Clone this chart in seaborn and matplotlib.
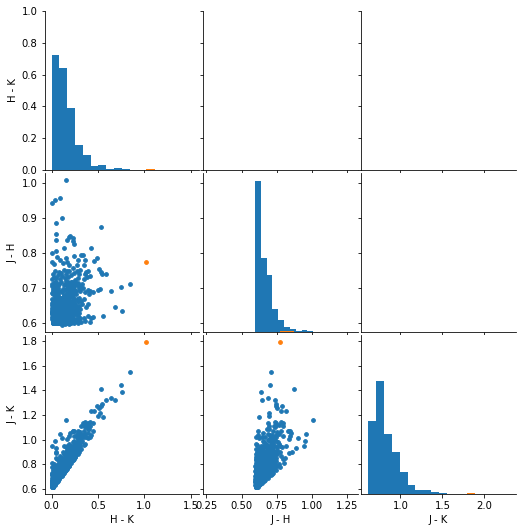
import matplotlib
matplotlib.use("Agg")
import matplotlib.pyplot as plt
import numpy as np
import pandas as pd
import seaborn as sns

# (H - K, J - H) pairs; J - K = (J - H) + (H - K)
grp_a1_b1 = [
    (0.018, 0.599), (0.011, 0.622), (0.019, 0.606), (0.027, 0.631), (0.033, 0.613), (0.041, 0.601),
    (0.048, 0.627), (0.056, 0.598), (0.062, 0.622), (0.071, 0.606), (0.079, 0.631), (0.083, 0.630),
    (0.016, 0.601), (0.009, 0.627), (0.017, 0.599), (0.023, 0.622), (0.031, 0.606), (0.038, 0.631),
    (0.044, 0.613), (0.052, 0.601), (0.059, 0.627), (0.066, 0.598), (0.079, 0.634), (0.081, 0.606),
    (0.006, 0.631), (0.013, 0.613), (0.021, 0.601), (0.028, 0.627), (0.036, 0.598), (0.043, 0.622),
    (0.050, 0.606), (0.057, 0.631), (0.064, 0.613), (0.069, 0.601), (0.081, 0.632), (0.082, 0.598),
    (0.001, 0.617), (0.008, 0.635), (0.017, 0.609), (0.025, 0.617), (0.034, 0.635), (0.039, 0.609),
    (0.046, 0.617), (0.054, 0.635), (0.061, 0.609), (0.068, 0.617), (0.075, 0.635), (0.080, 0.609),
    (0.012, 0.604), (0.012, 0.626), (0.020, 0.611), (0.029, 0.603), (0.035, 0.619), (0.042, 0.633),
    (0.049, 0.604), (0.058, 0.626), (0.065, 0.611), (0.072, 0.603), (0.084, 0.628), (0.084, 0.633),
    (0.005, 0.611), (0.013, 0.603), (0.016, 0.619), (0.024, 0.633), (0.032, 0.604), (0.037, 0.626),
    (0.045, 0.611), (0.053, 0.603), (0.060, 0.619), (0.080, 0.634), (0.073, 0.604), (0.082, 0.631),
    (0.007, 0.624), (0.016, 0.600), (0.022, 0.615), (0.030, 0.629), (0.040, 0.600), (0.047, 0.615),
    (0.055, 0.624), (0.063, 0.629), (0.070, 0.600), (0.076, 0.615),
    (0.018, 0.625), (0.026, 0.610), (0.035, 0.628), (0.051, 0.608), (0.058, 0.614), (0.044, 0.620),
    (0.029, 0.599), (0.012, 0.616), (0.066, 0.623), (0.039, 0.612), (0.009, 0.630), (0.073, 0.612),
]
grp_a1_b2 = [
    (0.003, 0.641), (0.011, 0.662), (0.018, 0.649), (0.046, 0.673), (0.034, 0.655), (0.041, 0.639),
    (0.049, 0.668), (0.075, 0.645), (0.064, 0.659), (0.072, 0.676), (0.080, 0.652),
    (0.006, 0.657), (0.014, 0.637), (0.045, 0.670), (0.030, 0.647), (0.055, 0.664), (0.064, 0.653),
    (0.074, 0.641), (0.061, 0.674), (0.068, 0.648), (0.076, 0.661),
    (0.001, 0.668), (0.009, 0.651), (0.040, 0.677), (0.024, 0.643), (0.052, 0.660), (0.040, 0.671),
    (0.070, 0.646), (0.055, 0.656), (0.079, 0.638), (0.070, 0.665), (0.078, 0.644),
    (0.012, 0.658), (0.028, 0.651), (0.060, 0.661), (0.072, 0.650), (0.036, 0.642), (0.020, 0.654),
]
grp_a1_b3 = [
    (0.002, 0.684), (0.010, 0.705), (0.017, 0.692), (0.025, 0.714), (0.033, 0.688), (0.040, 0.701),
    (0.048, 0.718), (0.056, 0.683), (0.063, 0.696), (0.071, 0.709), (0.079, 0.690),
    (0.005, 0.712), (0.013, 0.697), (0.021, 0.681), (0.029, 0.703), (0.037, 0.716), (0.044, 0.693),
    (0.052, 0.686), (0.060, 0.707), (0.067, 0.699), (0.075, 0.682), (0.082, 0.711),
]
grp_a1_high = [
    (0.004, 0.725), (0.015, 0.741), (0.027, 0.732), (0.038, 0.748), (0.051, 0.728), (0.066, 0.737),
    (0.078, 0.745), (0.000, 0.774), (0.010, 0.800), (0.055, 0.790), (0.030, 0.768), (0.051, 0.838),
    (0.044, 0.806), (0.044, 0.855), (0.044, 0.887), (0.000, 0.944), (0.036, 0.953),
]
grp_a2_b1 = [
    (0.086, 0.626), (0.093, 0.621), (0.100, 0.607), (0.107, 0.630), (0.114, 0.612), (0.121, 0.602),
    (0.128, 0.626), (0.135, 0.600), (0.142, 0.618), (0.149, 0.605), (0.156, 0.633), (0.163, 0.611),
    (0.088, 0.626), (0.101, 0.612), (0.102, 0.616), (0.109, 0.594), (0.116, 0.629), (0.123, 0.609),
    (0.130, 0.620), (0.137, 0.603), (0.144, 0.634), (0.151, 0.613), (0.158, 0.600), (0.165, 0.623),
    (0.097, 0.618), (0.097, 0.632), (0.112, 0.601), (0.111, 0.619), (0.118, 0.606), (0.125, 0.635),
    (0.132, 0.612), (0.139, 0.599), (0.146, 0.624), (0.153, 0.608), (0.160, 0.617), (0.167, 0.603),
    (0.085, 0.617), (0.102, 0.609), (0.099, 0.628), (0.106, 0.614), (0.113, 0.600), (0.120, 0.622),
    (0.127, 0.607), (0.134, 0.631), (0.141, 0.610), (0.148, 0.595), (0.155, 0.621), (0.162, 0.614),
    (0.093, 0.624), (0.094, 0.614), (0.101, 0.623), (0.108, 0.603), (0.115, 0.618), (0.122, 0.628),
    (0.129, 0.601), (0.136, 0.615), (0.143, 0.606), (0.150, 0.627), (0.157, 0.610), (0.164, 0.599),
    (0.089, 0.632), (0.096, 0.600), (0.103, 0.612), (0.110, 0.625), (0.117, 0.603), (0.124, 0.616),
    (0.131, 0.633), (0.138, 0.621), (0.145, 0.602), (0.152, 0.619), (0.159, 0.627), (0.166, 0.608),
    (0.098, 0.619), (0.119, 0.613), (0.133, 0.610),
    (0.087, 0.628), (0.095, 0.611), (0.103, 0.622), (0.111, 0.603), (0.119, 0.634), (0.127, 0.607),
    (0.135, 0.620), (0.143, 0.612), (0.151, 0.600), (0.159, 0.626), (0.090, 0.631), (0.098, 0.614),
]
grp_a2_b2 = [
    (0.086, 0.644), (0.094, 0.667), (0.102, 0.652), (0.133, 0.673), (0.118, 0.640), (0.141, 0.665),
    (0.134, 0.671), (0.152, 0.655), (0.150, 0.663), (0.164, 0.644), (0.166, 0.656),
    (0.089, 0.658), (0.097, 0.639), (0.105, 0.670), (0.113, 0.647), (0.121, 0.664), (0.129, 0.653),
    (0.137, 0.677), (0.160, 0.645), (0.153, 0.669), (0.161, 0.650),
    (0.091, 0.672), (0.099, 0.650), (0.107, 0.641), (0.115, 0.661), (0.123, 0.645), (0.140, 0.668),
    (0.146, 0.662), (0.147, 0.674), (0.155, 0.646), (0.163, 0.662),
    (0.093, 0.646), (0.104, 0.660), (0.112, 0.654), (0.120, 0.637), (0.128, 0.643), (0.149, 0.660),
    (0.148, 0.658), (0.157, 0.668), (0.165, 0.641),
]
grp_a2_b3 = [
    (0.167, 0.683), (0.106, 0.716), (0.114, 0.690), (0.122, 0.698), (0.130, 0.708), (0.138, 0.679),
    (0.146, 0.694), (0.154, 0.719), (0.162, 0.701), (0.117, 0.687), (0.141, 0.710),
]
grp_a2_high = [
    (0.092, 0.726), (0.105, 0.744), (0.118, 0.733), (0.131, 0.752), (0.144, 0.729), (0.157, 0.739),
    (0.166, 0.748), (0.088, 0.780), (0.125, 0.771), (0.152, 0.786), (0.131, 0.814), (0.110, 0.900),
    (0.088, 0.959), (0.153, 1.009),
]
grp_a3_b1 = [
    (0.170, 0.601), (0.176, 0.624), (0.182, 0.609), (0.188, 0.632), (0.194, 0.615),
    (0.172, 0.617), (0.179, 0.604), (0.185, 0.629), (0.191, 0.595), (0.197, 0.621),
    (0.174, 0.633), (0.181, 0.612), (0.187, 0.600), (0.193, 0.626), (0.199, 0.608),
    (0.221, 0.626), (0.227, 0.610), (0.233, 0.618), (0.239, 0.600), (0.245, 0.630), (0.251, 0.606),
    (0.205, 0.619), (0.211, 0.599), (0.217, 0.631), (0.223, 0.614), (0.229, 0.603), (0.235, 0.625),
]
grp_a3_b2 = [
    (0.171, 0.645), (0.178, 0.668), (0.185, 0.651), (0.192, 0.675), (0.199, 0.640), (0.206, 0.660),
    (0.226, 0.674), (0.220, 0.648), (0.236, 0.666), (0.234, 0.638), (0.241, 0.656),
    (0.174, 0.659), (0.181, 0.639), (0.188, 0.664), (0.195, 0.652), (0.202, 0.677), (0.209, 0.644),
    (0.216, 0.657), (0.230, 0.672), (0.230, 0.650), (0.238, 0.662), (0.250, 0.651),
]
grp_a3_b3 = [
    (0.170, 0.686), (0.178, 0.707), (0.186, 0.693), (0.194, 0.715), (0.202, 0.682), (0.210, 0.700),
    (0.218, 0.712), (0.226, 0.689), (0.234, 0.704), (0.243, 0.696), (0.251, 0.718),
    (0.174, 0.699), (0.190, 0.681), (0.206, 0.710), (0.222, 0.694), (0.238, 0.684), (0.182, 0.716),
    (0.200, 0.689), (0.206, 0.711), (0.212, 0.695), (0.218, 0.706), (0.224, 0.717), (0.230, 0.686),
    (0.236, 0.700), (0.242, 0.713), (0.248, 0.692), (0.203, 0.703), (0.209, 0.716), (0.215, 0.690),
]
grp_a3_high = [
    (0.175, 0.731), (0.193, 0.748), (0.210, 0.737), (0.228, 0.756), (0.245, 0.742),
    (0.172, 0.774), (0.193, 0.767), (0.240, 0.792),
    (0.170, 0.838), (0.183, 0.845), (0.204, 0.849), (0.226, 0.843), (0.236, 0.835), (0.240, 0.827),
]
grp_a4 = [
    (0.255, 0.604), (0.262, 0.625), (0.268, 0.611), (0.274, 0.633), (0.281, 0.600), (0.288, 0.618),
    (0.294, 0.607), (0.301, 0.628), (0.310, 0.614), (0.322, 0.603),
    (0.256, 0.652), (0.263, 0.640), (0.270, 0.667), (0.277, 0.645), (0.284, 0.659), (0.291, 0.672),
    (0.299, 0.649), (0.307, 0.638), (0.318, 0.662), (0.331, 0.655),
    (0.254, 0.690), (0.261, 0.708), (0.269, 0.683), (0.295, 0.699), (0.283, 0.714), (0.300, 0.694),
    (0.298, 0.705), (0.306, 0.690), (0.315, 0.700), (0.328, 0.712),
    (0.253, 0.722), (0.271, 0.747), (0.285, 0.729), (0.297, 0.741), (0.312, 0.752),
    (0.277, 0.766), (0.290, 0.780), (0.320, 0.794),
]
grp_a5 = [
    (0.345, 0.612), (0.362, 0.605), (0.389, 0.620), (0.416, 0.601),
    (0.350, 0.668), (0.375, 0.645), (0.398, 0.655),
    (0.340, 0.700), (0.358, 0.688), (0.388, 0.695), (0.405, 0.683), (0.418, 0.691),
    (0.345, 0.725), (0.362, 0.740), (0.370, 0.746), (0.390, 0.747), (0.378, 0.731), (0.410, 0.735),
    (0.340, 0.795), (0.350, 0.767), (0.365, 0.780),
]
grp_tail = [
    (0.425, 0.614), (0.452, 0.616), (0.448, 0.689), (0.497, 0.693), (0.458, 0.777), (0.490, 0.787),
    (0.420, 0.814), (0.507, 0.754), (0.529, 0.746), (0.547, 0.741), (0.522, 0.697), (0.536, 0.875),
    (0.560, 0.620), (0.585, 0.740), (0.646, 0.690), (0.680, 0.644), (0.744, 0.703), (0.755, 0.634),
    (0.843, 0.710),
]
grp_odd = [(1.018, 0.774)]

main_groups = [grp_a1_b1, grp_a1_b2, grp_a1_b3, grp_a1_high, grp_a2_b1, grp_a2_b2, grp_a2_b3,
               grp_a2_high, grp_a3_b1, grp_a3_b2, grp_a3_b3, grp_a3_high, grp_a4, grp_a5, grp_tail]
main_pts = [p for grp in main_groups for p in grp]

hk = np.array([p[0] for p in main_pts] + [p[0] for p in grp_odd])
jh = np.array([p[1] for p in main_pts] + [p[1] for p in grp_odd])
jk = jh + hk
group = ["main"] * len(main_pts) + ["odd"] * len(grp_odd)

df = pd.DataFrame({"H - K": hk, "J - H": jh, "J - K": jk, "group": group})

g = sns.PairGrid(df, vars=["H - K", "J - H", "J - K"], hue="group",
                 hue_order=["main", "odd"], palette=["#1f77b4", "#ff7f0e"], height=2.5)
g.map_diag(plt.hist)
g.map_lower(plt.scatter, s=14)

fig = g.figure
fig.set_size_inches(521 / 72, 532 / 72)
fig.subplots_adjust(left=44.5 / 521, right=516 / 521, bottom=1 - 494 / 532, top=1 - 11 / 532,
                    wspace=0.022, hspace=0.019)
fig.savefig("out.png", dpi=72)
